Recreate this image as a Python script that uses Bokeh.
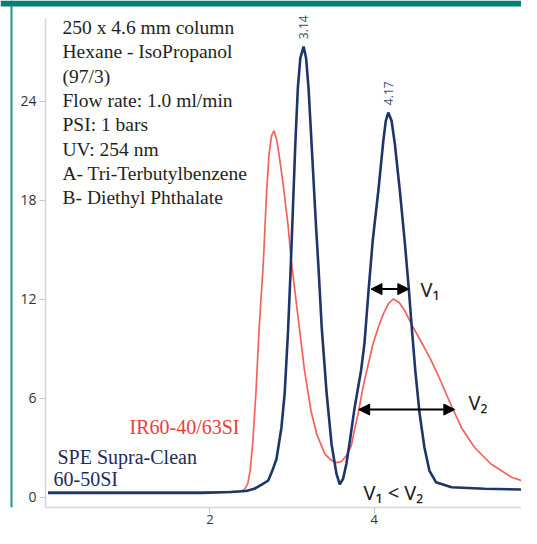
import math
from bokeh.plotting import figure
from bokeh.models import Range1d, FixedTicker, Label, Arrow, NormalHead, Span, BoxAnnotation
from bokeh.embed import file_html
from bokeh.resources import INLINE

# ---- data ----
blue_x = [0.03, 1.00, 1.90, 2.26, 2.44, 2.54, 2.63, 2.71, 2.76, 2.81, 2.87, 2.91, 2.95, 2.98,
          3.01, 3.04, 3.07, 3.10, 3.14, 3.17, 3.20, 3.25, 3.29, 3.32, 3.36, 3.42, 3.48, 3.54,
          3.58, 3.62, 3.66, 3.70, 3.76, 3.84, 3.88, 3.93, 3.98, 4.05, 4.11, 4.14, 4.17, 4.21,
          4.25, 4.31, 4.37, 4.42, 4.46, 4.50, 4.55, 4.61, 4.67, 4.75, 4.94, 5.34, 5.90]
blue_y = [0.25, 0.25, 0.25, 0.30, 0.36, 0.50, 0.75, 1.0, 1.6, 2.3, 4.2, 6.3, 10.0, 13.5,
          17.5, 21.5, 24.8, 26.6, 27.3, 26.6, 24.8, 20.2, 16.5, 14.0, 10.3, 6.3, 3.2, 1.4,
          0.76, 1.1, 2.0, 3.3, 5.4, 7.7, 9.3, 12.5, 15.5, 18.6, 21.6, 22.8, 23.3, 22.8,
          21.4, 18.6, 15.5, 12.6, 10.0, 7.6, 5.1, 3.0, 1.6, 0.9, 0.59, 0.50, 0.44]

red_x = [0.03, 1.00, 2.00, 2.38, 2.42, 2.46, 2.49, 2.52, 2.56, 2.60, 2.65, 2.69, 2.72, 2.75,
         2.78, 2.81, 2.84, 2.89, 2.95, 2.99, 3.07, 3.15, 3.23, 3.30, 3.40, 3.47, 3.54, 3.60,
         3.66, 3.72, 3.76, 3.81, 3.86, 3.92, 3.98, 4.05, 4.11, 4.17, 4.23, 4.30, 4.37, 4.46,
         4.56, 4.68, 4.81, 4.94, 5.06, 5.22, 5.42, 5.67, 5.90]
red_y = [0.30, 0.30, 0.30, 0.35, 0.45, 0.8, 1.6, 3.2, 6.3, 10.3, 14.2, 18.5, 20.8, 21.9,
         22.2, 21.7, 20.8, 19.0, 16.5, 14.3, 11.0, 7.7, 5.2, 3.8, 2.6, 2.25, 2.08, 2.15,
         2.5, 3.1, 4.1, 5.2, 6.6, 7.9, 9.2, 10.3, 11.1, 11.7, 12.0, 11.8, 11.3, 10.4,
         9.5, 8.4, 7.0, 5.5, 4.2, 3.0, 2.0, 1.2, 0.82]

peak_times = [3.14, 4.17]
peak_heights = [27.3, 23.3]
peak_labels = ["3.14", "4.17"]

# peak widths (V1 for the SPE column, V2 for IR60-40/63SI)
v1_start, v1_end, v1_level = 3.96, 4.42, 12.6
v2_start, v2_end, v2_level = 3.81, 4.98, 5.3

y_ticks = [0, 6, 12, 18, 24]
x_ticks = [2, 4, 6]

info_lines = ["250 x 4.6 mm column", "Hexane - IsoPropanol", "(97/3)",
              "Flow rate: 1.0 ml/min", "PSI: 1 bars", "UV: 254 nm",
              "A- Tri-Terbutylbenzene", "B- Diethyl Phthalate"]

BLUE = "#1d3569"
RED = "#f2625c"
TEAL = "#008272"

W, H = 521, 528
AXIS_PX = 45                     # pixel column of x = 0
BOTTOM = 21
PX_X, PX_Y = 82.2, 16.5          # pixels per unit in the reference
Y0_PX = 496.5                    # pixel row of y = 0

def dx(px):
    return (px - AXIS_PX) / PX_X

def dy(py):
    return (Y0_PX - py) / PX_Y

x_start, x_end = dx(0), dx(W)
y_top, y_bot = dy(0), dy(H - BOTTOM)

p = figure(width=W, height=H, output_backend="svg", toolbar_location=None,
           x_range=Range1d(x_start, x_end), y_range=Range1d(y_bot, y_top),
           min_border_left=0, min_border_right=0, min_border_top=0,
           min_border_bottom=BOTTOM)
p.outline_line_color = None
p.grid.visible = False
p.background_fill_color = "white"
p.border_fill_color = "white"

for ax in (p.xaxis[0], p.yaxis[0]):
    ax.axis_line_color = "#d6d6d6"
    ax.axis_line_width = 1.5
    ax.major_tick_line_color = "#c8c8c8"
    ax.major_tick_line_width = 1.2
    ax.major_tick_in = 0
    ax.minor_tick_line_color = None
    ax.major_label_text_font = "Open Sans"
    ax.major_label_text_font_size = "13px"
    ax.major_label_text_color = "#333333"

p.yaxis.ticker = FixedTicker(ticks=y_ticks)
p.yaxis.fixed_location = 0
p.yaxis.bounds = (y_bot, dy(18))
p.yaxis.major_tick_out = 6
p.yaxis.major_label_standoff = 3
p.yaxis.major_label_text_font_size = "14px"
p.xaxis.ticker = FixedTicker(ticks=x_ticks)
p.xaxis.bounds = (0, x_end)
p.xaxis.major_tick_out = 6
p.xaxis.major_label_standoff = 1

# page decorations: teal rule on top and on the left
p.add_layout(BoxAnnotation(top=y_top, bottom=dy(6), fill_color=TEAL, fill_alpha=1,
                           line_color=None))
p.add_layout(Span(location=dx(11), dimension="height", line_color=TEAL, line_width=2,
                  line_alpha=0.85))

p.line(red_x, red_y, line_color=RED, line_width=1.7)
p.line(blue_x, blue_y, line_color=BLUE, line_width=2.6)

for t, h, s in zip(peak_times, peak_heights, peak_labels):
    p.add_layout(Label(x=t, y=h + 0.45, text=s, angle=math.pi / 2, text_align="left",
                       text_baseline="middle", text_font="Open Sans", text_font_size="12px",
                       text_color="#3b4a72"))

for xs, xe, lv in ((v1_start, v1_end, v1_level), (v2_start, v2_end, v2_level)):
    p.add_layout(Arrow(x_start=xs, y_start=lv, x_end=xe, y_end=lv, line_width=2,
                       line_color="black",
                       start=NormalHead(size=11, fill_color="black", line_color="black"),
                       end=NormalHead(size=11, fill_color="black", line_color="black")))

SERIF = "Liberation Serif"
for i, line in enumerate(info_lines):
    p.add_layout(Label(x=dx(62), y=dy(27 + 24.3 * i), text=line, text_align="left",
                       text_baseline="middle", text_font=SERIF,
                       text_font_size="19.5px", text_color="#231f20"))

p.add_layout(Label(x=dx(129), y=dy(426), text="IR60-40/63SI", text_baseline="middle",
                   text_font=SERIF, text_font_size="20px", text_color="#e8413c"))
p.add_layout(Label(x=dx(57), y=dy(456), text="SPE Supra-Clean", text_baseline="middle",
                   text_font=SERIF, text_font_size="20px", text_color="#1f2a5c"))
p.add_layout(Label(x=dx(53), y=dy(478), text="60-50SI", text_baseline="middle",
                   text_font=SERIF, text_font_size="20px", text_color="#1f2a5c"))

SANS = "Noto Sans"
p.add_layout(Label(x=dx(420), y=dy(289), text="V\u2081", text_baseline="middle",
                   text_font=SANS, text_font_size="20px", text_color="#222222"))
p.add_layout(Label(x=dx(468), y=dy(402), text="V\u2082", text_baseline="middle",
                   text_font=SANS, text_font_size="20px", text_color="#222222"))
p.add_layout(Label(x=dx(363), y=dy(492), text="V\u2081 < V\u2082", text_baseline="middle",
                   text_font=SANS, text_font_size="20px", text_color="#222222"))

open("out.html", "w").write(file_html(p, INLINE))
